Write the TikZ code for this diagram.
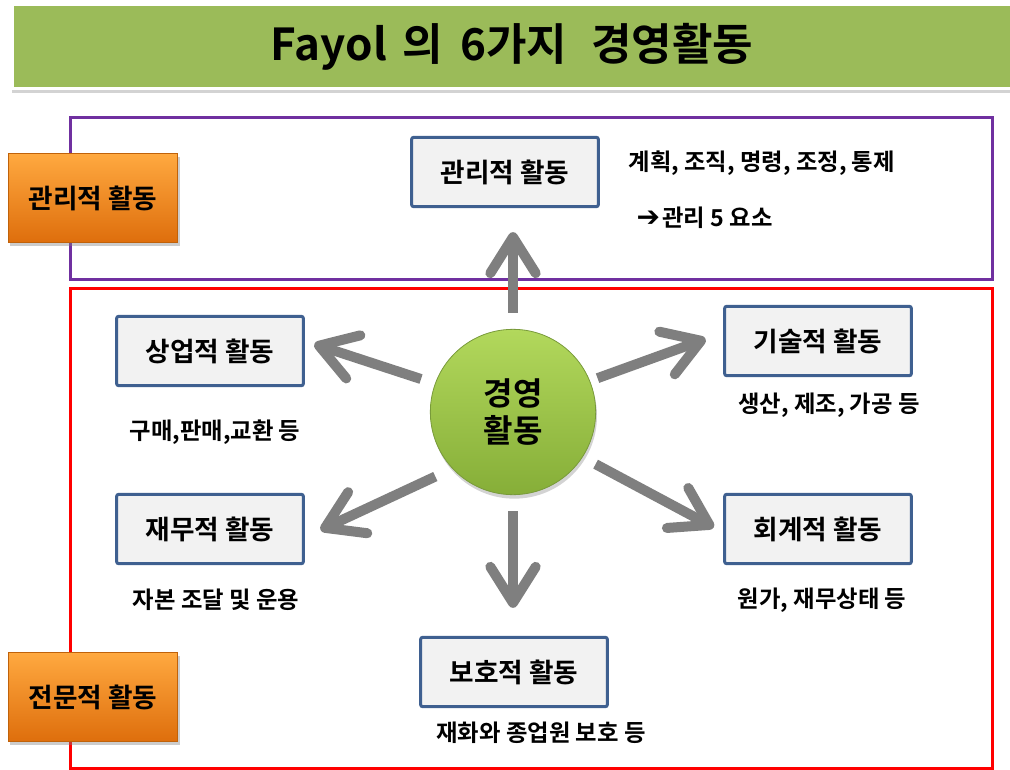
\documentclass[tikz,border=0pt]{standalone}
\usepackage{fontspec}
\setmainfont{Noto Sans CJK KR}[BoldFont={Noto Sans CJK KR Bold}]
\newfontfamily\symfont{DejaVu Sans}
\usetikzlibrary{arrows.meta,shadows}
\definecolor{barGreen}{HTML}{9BBB59}
\definecolor{zonePurple}{HTML}{7030A0}
\definecolor{zoneRed}{HTML}{FF0000}
\definecolor{sideTop}{HTML}{FFA940}
\definecolor{sideBot}{HTML}{DE6E0C}
\definecolor{sideEdge}{HTML}{C0620A}
\definecolor{actEdge}{HTML}{3F6090}
\definecolor{actFill}{HTML}{F2F2F2}
\definecolor{ballTop}{HTML}{B2D85C}
\definecolor{ballBot}{HTML}{86AE38}
\definecolor{ballEdge}{HTML}{789A3A}
\definecolor{arrowGray}{HTML}{7F7F7F}
\begin{document}
\begin{tikzpicture}[x=0.75pt,y=-0.75pt,
  bar/.style={draw=white,line width=2.25pt,fill=barGreen,minimum width=750pt,minimum height=63pt,
    font=\fontsize{33}{38}\selectfont\bfseries,drop shadow={shadow xshift=0pt,shadow yshift=-3pt,opacity=0.35}},
  side/.style={draw=sideEdge,line width=0.6pt,top color=sideTop,bottom color=sideBot,
    minimum width=127pt,minimum height=67pt,font=\fontsize{20}{24}\selectfont\bfseries,
    drop shadow={shadow xshift=1.5pt,shadow yshift=-2.5pt,opacity=0.4}},
  act/.style={draw=actEdge,line width=2.25pt,fill=actFill,rounded corners=1.5pt,
    minimum width=140pt,minimum height=52pt,font=\fontsize{20}{24}\selectfont\bfseries},
  note/.style={font=\fontsize{17.5}{20}\selectfont\bfseries},
  core/.style={circle,draw=ballEdge,line width=0.6pt,top color=ballTop,bottom color=ballBot,
    minimum size=124pt,align=center,font=\fontsize{24}{28}\selectfont\bfseries,
    drop shadow={shadow xshift=1pt,shadow yshift=-3pt,opacity=0.35}},
  bigarrow/.style={draw=arrowGray,line width=7.5pt,-{Straight Barb[length=27pt,width=34pt,round]}}]
\useasboundingbox (0,0) rectangle (1010,770);
\begin{scope}
\clip (0,0) rectangle (1010,770);
\node[bar] (title) at (512,47) {Fayol\hspace{0.35em}의\hspace{0.4em}6가지\hspace{0.55em}경영활동};
\end{scope}
\draw[zonePurple,line width=2.25pt] (70,118) rectangle (992,279);
\draw[zoneRed,line width=2.25pt] (70,288) rectangle (992,768);
\node[side] (sideMgmt) at (93,198) {관리적 활동};
\node[side] (sideSpec) at (93,697) {전문적 활동};
\node[act] (mgmt) at (505,172) {관리적 활동};
\node[act] (biz) at (210,351) {상업적 활동};
\node[act] (tech) at (818,341) {기술적 활동};
\node[act] (fin) at (210,529) {재무적 활동};
\node[act] (acct) at (818,529) {회계적 활동};
\node[act] (prot) at (514,672) {보호적 활동};
\node[note,anchor=west] (mgmtNote) at (624,163) {계획, 조직, 명령, 조정, 통제};
\node[note,anchor=west] (mgmtFive) at (632,218) {{\symfont\bfseries\fontsize{21}{20}\selectfont ➔}\hspace{0.1em}관리 5 요소};
\node[note] (bizNote) at (215,432) {구매,판매,교환 등};
\node[note] (techNote) at (829,405) {생산, 제조, 가공 등};
\node[note] (finNote) at (216,600) {자본 조달 및 운용};
\node[note] (acctNote) at (822,600) {원가, 재무상태 등};
\node[note] (protNote) at (541,733) {재화와 종업원 보호 등};
\node[core] (core) at (513,412) {경영\\활동};
\draw[bigarrow,shorten <=12pt,shorten >=18pt] (core.north) -- (core.north |- mgmt.south);
\draw[bigarrow,shorten <=11pt,shorten >=7.5pt] (core.160) -- (biz.6);
\draw[bigarrow,shorten <=6pt,shorten >=14pt] (core.22) -- (tech.175);
\draw[bigarrow,shorten <=14pt,shorten >=13pt] (core.223) -- (fin.-5);
\draw[bigarrow,shorten <=11pt,shorten >=8pt] (core.-33) -- (acct.182);
\draw[bigarrow,shorten <=12pt,shorten >=21pt] (core.south) -- (core.south |- prot.north);
\end{tikzpicture}
\end{document}
